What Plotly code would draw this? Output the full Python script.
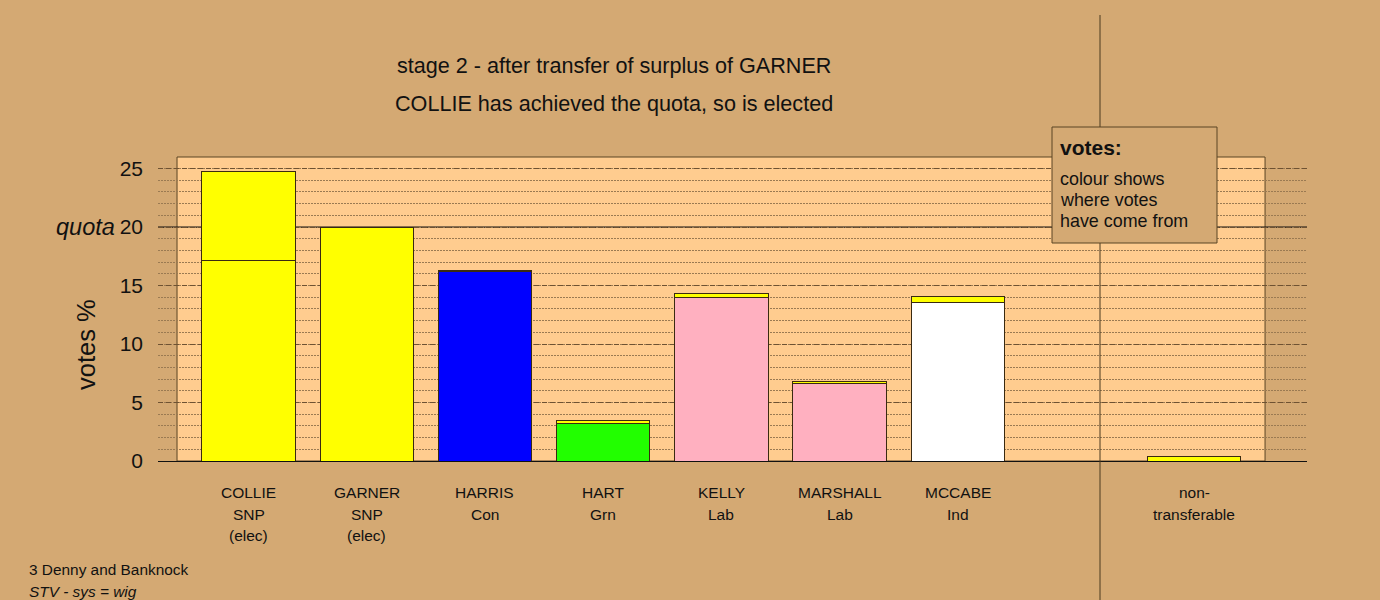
import plotly.graph_objects as go

# ---------------- data ----------------
candidates = ["COLLIE", "GARNER", "HARRIS", "HART", "KELLY", "MARSHALL", "MCCABE"]
parties = ["SNP", "SNP", "Con", "Grn", "Lab", "Lab", "Ind"]
status = ["(elec)", "(elec)", "", "", "", "", ""]
own_votes = [17.13, 20.0, 16.20, 3.17, 14.02, 6.66, 13.52]
transfer_from_garner = [7.64, 0.0, 0.10, 0.32, 0.26, 0.17, 0.52]
own_colours = ["#FFFF00", "#FFFF00", "#0000FF", "#22FF00", "#FFB0C0", "#FFB0C0", "#FFFFFF"]
nontransferable = 0.37
quota = 20
yticks = [0, 5, 10, 15, 20, 25]

title_lines = ["stage 2 - after transfer of surplus of GARNER",
               "COLLIE has achieved the quota, so is elected"]
legend_lines = ["colour shows", "where votes", "have come from"]

# ---------------- layout helpers ----------------
W, H = 1380, 600
L, R, T, B = 158, 1307, 157, 461  # plot area in pixels


def px(x):
    return (x - L) / (R - L)


def py(y):
    return (B - y) / (B - T)


TAN = "#D4A973"
LIGHT = "#FFCC8F"
EDGE = "#3A2A10"

x_cand = list(range(len(candidates)))
x_nt = 8

fig = go.Figure()
fig.add_trace(go.Bar(x=x_cand, y=own_votes, marker=dict(color=own_colours, line=dict(color=EDGE, width=1)),
                     width=0.79, showlegend=False, hoverinfo="y"))
fig.add_trace(go.Bar(x=x_cand + [x_nt], y=transfer_from_garner + [nontransferable],
                     marker=dict(color="#FFFF00", line=dict(color=EDGE, width=1)),
                     width=0.79, showlegend=False, hoverinfo="y"))

shapes = []
# light plot panel
shapes.append(dict(type="rect", xref="x", yref="paper", x0=-0.605, x1=8.6, y0=0, y1=1,
                   fillcolor=LIGHT, line=dict(color="#5A4524", width=1), layer="below"))
# quota line (behind the bars)
shapes.append(dict(type="line", xref="paper", yref="y", x0=0, x1=1, y0=quota, y1=quota,
                   line=dict(color="#111111", width=1.3), layer="below"))
# separator
shapes.append(dict(type="line", xref="paper", yref="paper", x0=px(1100), x1=px(1100), y0=py(600), y1=py(15),
                   line=dict(color="#4A3A20", width=1), layer="above"))
# legend box
shapes.append(dict(type="rect", xref="paper", yref="paper", x0=px(1052), x1=px(1217), y0=py(243), y1=py(127),
                   fillcolor=TAN, line=dict(color="#5A4524", width=1), layer="above"))

ann = []
FONT = "Liberation Sans, Arial, sans-serif"
for i, t in enumerate(title_lines):
    ann.append(dict(text=t, x=px(614), y=py([66, 104][i]), xref="paper", yref="paper", showarrow=False,
                    xanchor="center", yanchor="middle", font=dict(size=21.6, color="#111111", family=FONT)))

for i in range(len(candidates)):
    for j, t in enumerate([candidates[i], parties[i], status[i]]):
        if t:
            ann.append(dict(text=t, x=i, y=py([492, 514, 535][j]), xref="x", yref="paper", showarrow=False,
                            xanchor="center", yanchor="middle", font=dict(size=15.5, color="#111111", family=FONT)))
for j, t in enumerate(["non-", "transferable"]):
    ann.append(dict(text=t, x=x_nt, y=py([492, 514][j]), xref="x", yref="paper", showarrow=False,
                    xanchor="center", yanchor="middle", font=dict(size=15.5, color="#111111", family=FONT)))

ann.append(dict(text="<i>quota</i>", x=px(117), y=quota, xref="paper", yref="y", showarrow=False,
                xanchor="right", yanchor="middle", font=dict(size=23.5, color="#111111", family=FONT)))
ann.append(dict(text="votes %", x=px(86), y=py(345), xref="paper", yref="paper", showarrow=False,
                textangle=-90, xanchor="center", yanchor="middle", font=dict(size=25.5, color="#111111", family=FONT)))

ann.append(dict(text="<b>votes:</b>", x=px(1058), y=py(147), xref="paper", yref="paper", showarrow=False,
                xanchor="left", yanchor="middle", font=dict(size=21, color="#111111", family=FONT)))
for k, t in enumerate(legend_lines):
    ann.append(dict(text=t, x=px(1058), y=py([179, 200, 221][k]), xref="paper", yref="paper", showarrow=False,
                    xanchor="left", yanchor="middle", font=dict(size=17.9, color="#111111", family=FONT)))

ann.append(dict(text="3 Denny and Banknock", x=px(27), y=py(569), xref="paper", yref="paper", showarrow=False,
                xanchor="left", yanchor="middle", font=dict(size=15.4, color="#111111", family=FONT)))
ann.append(dict(text="<i>STV - sys = wig</i>", x=px(27), y=py(591), xref="paper", yref="paper", showarrow=False,
                xanchor="left", yanchor="middle", font=dict(size=15.4, color="#111111", family=FONT)))

fig.update_layout(
    width=W, height=H,
    margin=dict(l=L, r=W - R, t=T, b=H - B, pad=0),
    paper_bgcolor=TAN, plot_bgcolor=TAN,
    barmode="stack", bargap=0.2,
    shapes=shapes, annotations=ann,
    xaxis=dict(range=[-0.766, 8.955], showticklabels=False, showgrid=False, zeroline=False, ticks=""),
    yaxis=dict(range=[0, 25.99], tickvals=yticks, ticktext=[str(v) for v in yticks],
               tickfont=dict(size=21, color="#111111", family=FONT), ticklabelstandoff=14,
               showgrid=True, gridcolor="#6E5232", griddash="5px,3px", gridwidth=1,
               minor=dict(dtick=1, showgrid=True, gridcolor="#9A7A52", griddash="1.5px,1.5px", gridwidth=1),
               zeroline=True, zerolinecolor="#111111", zerolinewidth=1.3, showline=False),
    font=dict(family=FONT),
)

fig.write_html("out.html", config={"displayModeBar": False},
               post_script="document.body.style.margin='0';document.body.style.overflow='hidden';")
